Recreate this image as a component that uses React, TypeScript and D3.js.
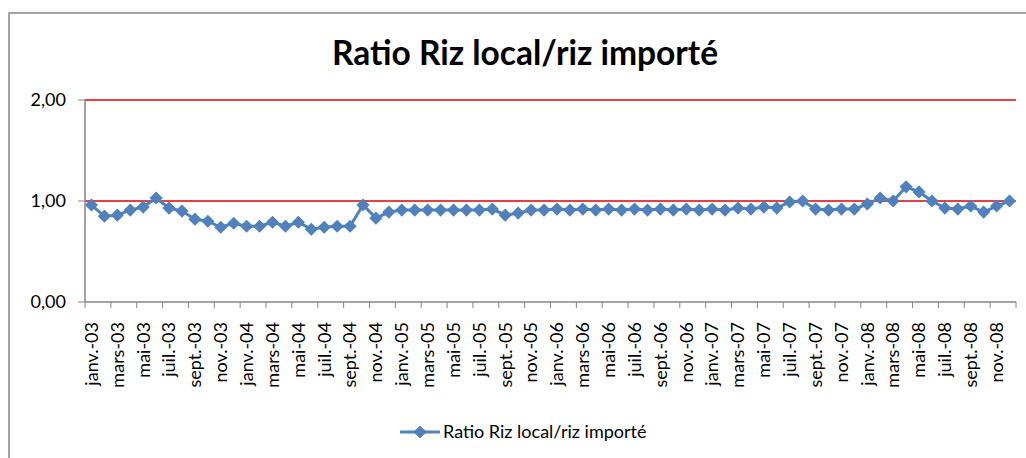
import * as d3 from "d3";
import { useEffect, useRef } from "react";

const months = ["janv.", "févr.", "mars", "avr.", "mai", "juin", "juil.", "août", "sept.", "oct.", "nov.", "déc."];
const years = ["03", "04", "05", "06", "07", "08"];
const categories = years.flatMap((y) => months.map((m) => `${m}-${y}`));

const ratio2003 = [0.96, 0.85, 0.86, 0.91, 0.94, 1.03, 0.93, 0.9, 0.82, 0.8, 0.74, 0.78];
const ratio2004 = [0.75, 0.75, 0.79, 0.75, 0.79, 0.72, 0.74, 0.75, 0.75, 0.96, 0.83, 0.89];
const ratio2005 = [0.91, 0.91, 0.91, 0.91, 0.91, 0.91, 0.91, 0.92, 0.86, 0.88, 0.91, 0.91];
const ratio2006 = [0.92, 0.91, 0.92, 0.91, 0.92, 0.91, 0.92, 0.91, 0.92, 0.91, 0.92, 0.91];
const ratio2007 = [0.92, 0.91, 0.93, 0.92, 0.94, 0.93, 0.99, 1.0, 0.92, 0.91, 0.92, 0.92];
const ratio2008 = [0.97, 1.03, 1.0, 1.14, 1.09, 1.0, 0.93, 0.92, 0.95, 0.89, 0.95, 1.0];
const values = [...ratio2003, ...ratio2004, ...ratio2005, ...ratio2006, ...ratio2007, ...ratio2008];

const yTicks = [0, 1, 2];
const seriesName = "Ratio Riz local/riz importé";

const App = () => {
  const ref = useRef<SVGSVGElement | null>(null);

  useEffect(() => {
    const svg = d3.select(ref.current);
    svg.selectAll("*").remove();

    const width = 1026,
      height = 458;
    const left = 85,
      right = 1016,
      top = 100,
      bottom = 302;
    const blue = "#4F81BD";
    const gray = "#868686";
    const font = "Lato, 'Open Sans', sans-serif";

    svg.append("rect").attr("width", width).attr("height", height).attr("fill", "#fff");
    svg
      .append("rect")
      .attr("x", 9)
      .attr("y", 13)
      .attr("width", 1040)
      .attr("height", 470)
      .attr("fill", "none")
      .attr("stroke", gray)
      .attr("stroke-width", 1.5);

    const x = d3.scaleBand().domain(categories).range([left, right]);
    const y = d3.scaleLinear().domain([0, 2]).range([bottom, top]);
    const cx = (i: number) => (x(categories[i]) ?? 0) + x.bandwidth() / 2;

    // title
    svg
      .append("text")
      .attr("x", 525)
      .attr("y", 65)
      .attr("text-anchor", "middle")
      .attr("font-family", font)
      .attr("font-weight", "bold")
      .attr("font-size", 33.5)
      .text(seriesName);

    // red gridlines
    svg
      .append("g")
      .selectAll("line")
      .data(yTicks.filter((t) => t > 0))
      .join("line")
      .attr("x1", left)
      .attr("x2", right)
      .attr("y1", (d) => y(d))
      .attr("y2", (d) => y(d))
      .attr("stroke", "#E00000")
      .attr("stroke-width", 1.5);

    // y axis
    svg
      .append("line")
      .attr("x1", left)
      .attr("x2", left)
      .attr("y1", top)
      .attr("y2", bottom)
      .attr("stroke", gray)
      .attr("stroke-width", 1.5);
    const yg = svg.append("g");
    yg.selectAll("line")
      .data(yTicks)
      .join("line")
      .attr("x1", left - 7)
      .attr("x2", left)
      .attr("y1", (d) => y(d))
      .attr("y2", (d) => y(d))
      .attr("stroke", gray);
    yg.selectAll("text")
      .data(yTicks)
      .join("text")
      .attr("x", 66)
      .attr("y", (d) => y(d))
      .attr("dy", "0.36em")
      .attr("text-anchor", "end")
      .attr("font-family", font)
      .attr("font-size", 18)
      .text((d) => d3.format(".2f")(d).replace(".", ","));

    // x axis
    svg
      .append("line")
      .attr("x1", left)
      .attr("x2", right)
      .attr("y1", bottom)
      .attr("y2", bottom)
      .attr("stroke", gray)
      .attr("stroke-width", 1.5);
    const boundaries = d3.range(0, categories.length + 1, 2);
    svg
      .append("g")
      .selectAll("line")
      .data(boundaries)
      .join("line")
      .attr("x1", (d) => left + d * x.bandwidth())
      .attr("x2", (d) => left + d * x.bandwidth())
      .attr("y1", bottom)
      .attr("y2", bottom + 6)
      .attr("stroke", gray);
    svg
      .append("g")
      .selectAll("text")
      .data(categories.filter((_, i) => i % 2 === 0))
      .join("text")
      .attr("transform", (d) => `translate(${(x(d) ?? 0) + x.bandwidth() / 2},322) rotate(-90)`)
      .attr("dy", "0.35em")
      .attr("text-anchor", "end")
      .attr("font-family", font)
      .attr("font-size", 18)
      .text((d) => d);

    // series
    const line = d3
      .line<number>()
      .x((_, i) => cx(i))
      .y((d) => y(d));
    svg
      .append("path")
      .datum(values)
      .attr("fill", "none")
      .attr("stroke", blue)
      .attr("stroke-width", 3)
      .attr("d", line);

    const diamond = d3.symbol().type(d3.symbolDiamond2).size(110);
    svg
      .append("g")
      .selectAll("path")
      .data(values)
      .join("path")
      .attr("transform", (d, i) => `translate(${cx(i)},${y(d)})`)
      .attr("d", diamond)
      .attr("fill", blue);

    // legend
    const lg = svg.append("g").attr("transform", "translate(400,432)");
    lg.append("line").attr("x1", 0).attr("x2", 40).attr("stroke", blue).attr("stroke-width", 3);
    lg.append("path").attr("transform", "translate(20,0)").attr("d", diamond).attr("fill", blue);
    lg.append("text")
      .attr("x", 43)
      .attr("dy", "0.35em")
      .attr("font-family", font)
      .attr("font-size", 18)
      .text(seriesName);
  }, []);

  return (
    <svg
      ref={ref}
      width={1026}
      height={458}
      style={{ position: "absolute", left: 0, top: 0 }}
    ></svg>
  );
};

export default App;
